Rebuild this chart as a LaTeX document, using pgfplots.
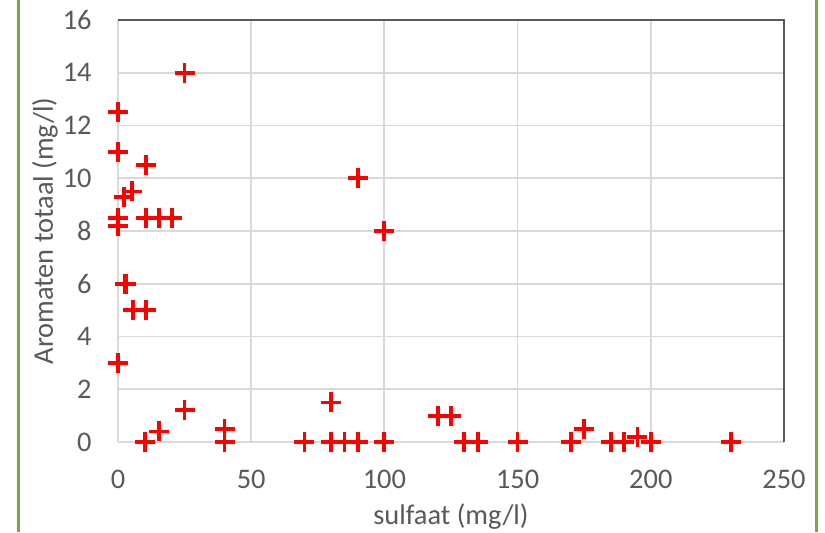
\documentclass[border=0pt]{standalone}
\usepackage{pgfplots}
\pgfplotsset{compat=1.18}
\usepackage{fontspec}
\setmainfont{Carlito}
\definecolor{tickgray}{HTML}{595959}
\definecolor{gridgray}{HTML}{D9D9D9}
\definecolor{framegray}{HTML}{595959}
\definecolor{boxgreen}{HTML}{70AD47}
\newcommand{\lbl}{\fontsize{14.2pt}{17pt}\selectfont}
\begin{document}
\begin{tikzpicture}
\useasboundingbox (0pt,0pt) rectangle (412.5pt,266pt);
\fill[white] (0pt,0pt) rectangle (412.5pt,266pt);
\draw[boxgreen, line width=1.5pt] (9.2pt,0pt) -- (9.2pt,266pt);
\draw[boxgreen, line width=1.5pt] (408.4pt,0pt) -- (408.4pt,266pt);
\begin{axis}[
  at={(59pt,45pt)}, anchor=south west,
  scale only axis, width=333pt, height=211pt,
  xmin=0, xmax=250, ymin=0, ymax=16,
  xtick={0,50,...,250}, ytick={0,2,...,16},
  /pgf/number format/assume math mode=true,
  grid=major, major grid style={gridgray, line width=0.9pt},
  axis line style={draw=none},
  major tick length=0pt,
  tick label style={font=\lbl, text=tickgray, inner sep=0pt},
  xticklabel style={anchor=north, yshift=-14pt},
  yticklabel style={anchor=east, xshift=-13pt},
  xlabel={sulfaat (mg/l)}, ylabel={Aromaten totaal (mg/l)},
  xlabel style={at={(axis description cs:0.5,-0.1777)}, anchor=center, font=\lbl, text=tickgray},
  ylabel style={at={(axis description cs:-0.1096,0.5)}, anchor=center, font=\lbl, text=tickgray},
  clip=false,
]
\addplot[only marks, mark=+, mark size=5pt, red, mark options={line width=1.9pt}] coordinates {
(0,12.5) (0,11) (0,8.5) (0,8.2) (0,3)
(25,14) (10.4,10.5) (2.4,9.3) (5.4,9.5)
(10.4,8.5) (15.4,8.5) (20.4,8.5)
(2.5,6) (3,6) (5.7,5) (10.6,5)
(25,1.2) (10,0) (15.5,0.4) (40,0.5) (40,0)
(70,0) (80,0) (85,0) (90,0) (100,0) (80,1.5)
(90,10) (100,8)
(120,1) (125,1) (130,0) (135,0) (150,0)
(170,0) (175,0.5) (185,0) (190,0) (195,0.2) (200,0) (230,0)
};
\draw[framegray, line width=1pt] (rel axis cs:0,1) -- (rel axis cs:1,1) -- (rel axis cs:1,0);
\end{axis}
\end{tikzpicture}
\end{document}
